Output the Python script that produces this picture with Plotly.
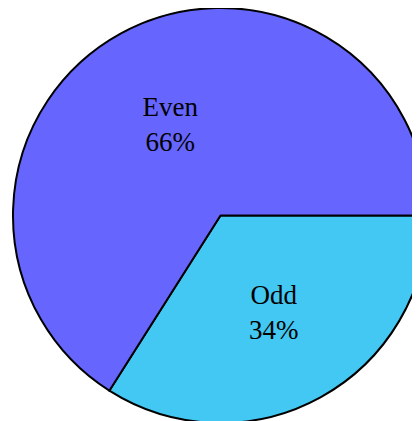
import plotly.graph_objects as go

labels = ["Odd", "Even"]
values = [34, 66]
colors = ["#42C8F2", "#6666FF"]

fig = go.Figure(go.Pie(
    labels=labels,
    values=values,
    sort=False,
    direction="clockwise",
    rotation=90,
    marker=dict(colors=colors, line=dict(color="black", width=2)),
    texttemplate="%{label}<br>%{percent:.0%}",
    textposition="inside",
    insidetextorientation="horizontal",
    insidetextfont=dict(family="Liberation Serif", size=27, color="black"),
    showlegend=False,
    domain=dict(x=[5/420, 1], y=[6/421, 1]),
    hoverinfo="skip",
))

fig.update_layout(
    width=420, height=421,
    margin=dict(l=0, r=0, t=0, b=0),
    paper_bgcolor="white",
    plot_bgcolor="white",
)

fig.write_html("out.html")
